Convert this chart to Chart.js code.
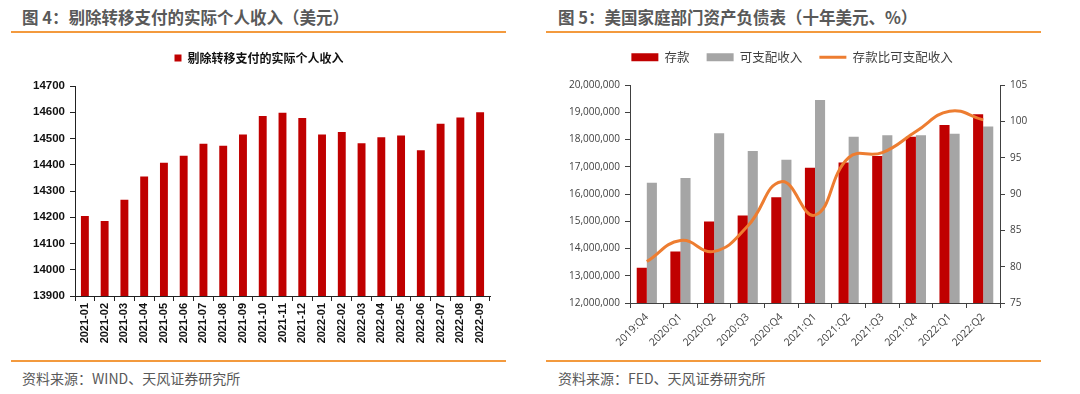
<!DOCTYPE html>
<html lang="zh-CN">
<head>
<meta charset="utf-8">
<title>个人收入与家庭部门资产负债表</title>
<script src="https://cdn.jsdelivr.net/npm/chart.js@4.4.0/dist/chart.umd.min.js"></script>
<style>
    html, body { margin: 0; padding: 0; background: #fff; }
    body {
        width: 1080px; height: 394px; position: relative; overflow: hidden;
        font-family: 'Noto Sans CJK SC', sans-serif;
    }
    .title {
        position: absolute; top: 5px; font-size: 16.5px; font-weight: bold;
        color: #595959; line-height: 24px; white-space: nowrap;
    }
    .rule { position: absolute; height: 2px; background: #F39A3E; }
    .source {
        position: absolute; top: 367px; font-size: 14px; color: #595959;
        line-height: 22px; white-space: nowrap;
    }
    .panel { position: absolute; top: 0; width: 540px; height: 360px; }
</style>
</head>
<body>
    <div class="title" style="left:22px">图 4：剔除转移支付的实际个人收入（美元）</div>
    <div class="title" style="left:558px">图 5：美国家庭部门资产负债表（十年美元、%）</div>
    <div class="rule" style="left:11px; width:495px; top:31px"></div>
    <div class="rule" style="left:546px; width:495px; top:31px"></div>

    <div class="panel" style="left:0"><canvas id="income-chart" width="540" height="360"></canvas></div>
    <div class="panel" style="left:540px"><canvas id="balance-chart" width="540" height="360"></canvas></div>

    <div class="rule" style="left:11px; width:495px; top:360px"></div>
    <div class="rule" style="left:546px; width:495px; top:360px"></div>
    <div class="source" style="left:22px">资料来源：WIND、天风证券研究所</div>
    <div class="source" style="left:558px">资料来源：FED、天风证券研究所</div>

<script>
// 图4 数据
const months = ['2021-01', '2021-02', '2021-03', '2021-04', '2021-05', '2021-06', '2021-07',
    '2021-08', '2021-09', '2021-10', '2021-11', '2021-12', '2022-01', '2022-02', '2022-03',
    '2022-04', '2022-05', '2022-06', '2022-07', '2022-08', '2022-09'];
const realIncome = [14205, 14186, 14267, 14355, 14408, 14434, 14480, 14472, 14515, 14586, 14598,
    14578, 14515, 14525, 14482, 14505, 14511, 14455, 14556, 14580, 14600];

// 图5 数据
const quarters = ['2019:Q4', '2020:Q1', '2020:Q2', '2020:Q3', '2020:Q4', '2021:Q1', '2021:Q2',
    '2021:Q3', '2021:Q4', '2022:Q1', '2022:Q2'];
const deposits = [13290000, 13890000, 14990000, 15210000, 15880000, 16960000, 17160000,
    17390000, 18100000, 18530000, 18930000];
const disposableIncome = [16410000, 16590000, 18230000, 17580000, 17260000, 19450000, 18100000,
    18160000, 18160000, 18210000, 18480000];
const depositRatio = [80.7, 83.6, 82.1, 85.6, 91.7, 87.1, 95.0, 95.7, 98.6, 101.4, 100.2];

const RED = '#C00000';
const GRAY = '#A5A5A5';
const ORANGE = '#ED7D31';

// 固定图例高度并可水平平移，用来对齐绘图区
function legendBox(height, dx) {
    return {
        id: 'legendBox',
        beforeInit(chart) {
            const legend = chart.legend;
            if (!legend) return;
            const fit = legend.fit;
            legend.fit = function () {
                fit.call(this);
                this.height = height;
            };
        },
        afterLayout(chart) {
            if (chart.legend && dx) {
                chart.legend.left += dx;
                chart.legend.right += dx;
            }
        }
    };
}

// 图4：柱状图
new Chart(document.getElementById('income-chart'), {
    type: 'bar',
    data: {
        labels: months,
        datasets: [{
            label: '剔除转移支付的实际个人收入',
            data: realIncome,
            backgroundColor: RED,
            barPercentage: 0.4,
            categoryPercentage: 1.0
        }]
    },
    options: {
        responsive: false,
        animation: false,
        layout: { padding: { top: 44, right: 50, left: 0, bottom: 0 } },
        plugins: {
            legend: {
                labels: {
                    boxWidth: 7, boxHeight: 7, padding: 8, color: '#111',
                    font: { family: "'Noto Sans CJK SC'", size: 12, weight: 'bold' }
                }
            },
            tooltip: { enabled: false }
        },
        scales: {
            x: {
                grid: { drawOnChartArea: false, tickLength: 5, color: '#222', offset: true },
                border: { color: '#222' },
                ticks: {
                    autoSkip: false, minRotation: 90, maxRotation: 90, padding: 2, color: '#111',
                    font: { family: "'Liberation Sans'", size: 11, weight: 'bold' }
                },
                afterFit: s => { s.height = 64; }
            },
            y: {
                min: 13900, max: 14700,
                grid: { drawOnChartArea: false, tickLength: 5, color: '#222' },
                border: { color: '#222' },
                ticks: {
                    stepSize: 100, padding: 5, color: '#111',
                    font: { family: "'Liberation Sans'", size: 11.5, weight: 'bold' },
                    callback: v => String(v)
                },
                afterFit: s => { s.width = 75; }
            }
        }
    },
    plugins: [legendBox(42, 14)]
});

// 图5：柱状图 + 折线
new Chart(document.getElementById('balance-chart'), {
    type: 'bar',
    data: {
        labels: quarters,
        datasets: [
            {
                label: '存款',
                data: deposits,
                backgroundColor: RED,
                pointStyle: 'rect',
                yAxisID: 'y',
                order: 1,
                barPercentage: 1.0,
                categoryPercentage: 0.6
            },
            {
                label: '可支配收入',
                data: disposableIncome,
                backgroundColor: GRAY,
                pointStyle: 'rect',
                yAxisID: 'y',
                order: 1,
                barPercentage: 1.0,
                categoryPercentage: 0.6
            },
            {
                type: 'line',
                label: '存款比可支配收入',
                data: depositRatio,
                borderColor: ORANGE,
                backgroundColor: ORANGE,
                borderWidth: 3,
                pointRadius: 0,
                pointStyle: 'line',
                tension: 0.45,
                yAxisID: 'y1',
                order: 0
            }
        ]
    },
    options: {
        responsive: false,
        animation: false,
        layout: { padding: { top: 34, right: 40, left: 0, bottom: 0 } },
        plugins: {
            legend: {
                labels: {
                    usePointStyle: true, pointStyleWidth: 27, boxWidth: 27, boxHeight: 8,
                    padding: 17, color: '#404040',
                    font: { family: "'Noto Sans CJK SC'", size: 12.5 },
                    sort: (a, b) => a.datasetIndex - b.datasetIndex
                }
            },
            tooltip: { enabled: false }
        },
        scales: {
            x: {
                grid: { drawOnChartArea: false, tickLength: 5, color: '#404040', offset: true },
                border: { color: '#404040' },
                ticks: {
                    autoSkip: false, minRotation: 45, maxRotation: 45, padding: 3, color: '#404040',
                    font: { family: "'Open Sans'", size: 10.5 }
                },
                afterFit: s => { s.height = 57; }
            },
            y: {
                position: 'left',
                min: 12000000, max: 20000000,
                grid: { drawOnChartArea: false, tickLength: 5, color: '#404040' },
                border: { color: '#404040' },
                ticks: {
                    stepSize: 1000000, padding: 5, color: '#404040',
                    font: { family: "'Open Sans'", size: 10 },
                    callback: v => v.toLocaleString('en-US')
                },
                afterFit: s => { s.width = 90; }
            },
            y1: {
                position: 'right',
                min: 75, max: 105,
                grid: { drawOnChartArea: false, tickLength: 5, color: '#404040' },
                border: { color: '#404040' },
                ticks: {
                    stepSize: 5, padding: 5, color: '#404040',
                    font: { family: "'Open Sans'", size: 10 }
                },
                afterFit: s => { s.width = 40; }
            }
        }
    },
    plugins: [legendBox(51, 2)]
});
</script>
</body>
</html>
